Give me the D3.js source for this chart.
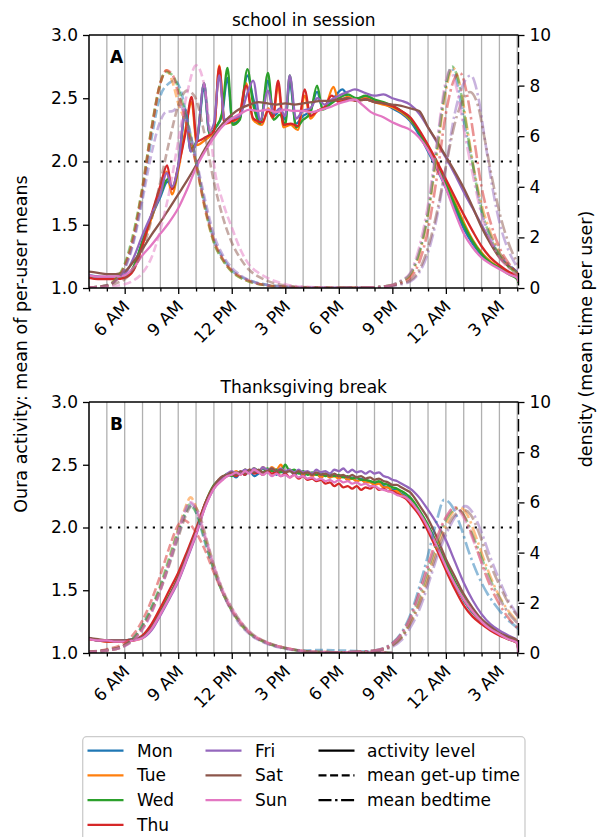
<!DOCTYPE html>
<html lang="en">
<head>
<meta charset="UTF-8">
<title>Oura activity by weekday</title>
<script src="https://d3js.org/d3.v7.min.js"></script>
<style>
  body { margin: 0; background: #fff; }
  svg { font-family: "DejaVu Sans", sans-serif; }
</style>
</head>
<body>
<svg id="chart" width="598" height="837"></svg>
<script>
// ---- data ----
const dayNames = ["Mon", "Tue", "Wed", "Thu", "Fri", "Sat", "Sun"];
const dayColors = ["#1f77b4", "#ff7f0e", "#2ca02c", "#d62728", "#9467bd", "#8c564b", "#e377c2"];
const hourTicks = [6, 9, 12, 15, 18, 21, 24, 27];
const hourTickLabels = ["6 AM", "9 AM", "12 PM", "3 PM", "6 PM", "9 PM", "12 AM", "3 AM"];
const gridHours = [4,5,6,7,8,9,10,11,12,13,14,15,16,17,18,19,20,21,22,23,24,25,26,27,28];
const activityTicks = [1.0, 1.5, 2.0, 2.5, 3.0];
const densityTicks = [0, 2, 4, 6, 8, 10];
const panelTitles = ["school in session", "Thanksgiving break"];
const panelLetters = ["A", "B"];
const styleNames = ["activity level", "mean get-up time", "mean bedtime"];

// panel A: activity, [hour, mean activity], one list per weekday
const schoolActivity = [
  [[4,1.10],[4.5,1.09],[5,1.08],[5.5,1.08],[6,1.09],[6.5,1.16],[7,1.37],[7.5,1.56],[8,1.72],[8.4,1.84],[8.7,1.80],[9,1.95],[9.4,2.38],[9.7,2.08],[10.05,2.16],[10.45,2.58],[10.75,2.22],[11.1,2.27],[11.45,2.36],[11.76,2.66],[12.05,2.30],[12.45,2.34],[12.88,2.68],[13.2,2.50],[13.6,2.31],[14.03,2.64],[14.35,2.36],[14.7,2.40],[15.0,2.33],[15.25,2.62],[15.6,2.30],[16.0,2.36],[16.4,2.40],[16.78,2.55],[17.1,2.42],[17.5,2.46],[18.2,2.57],[18.6,2.50],[19,2.49],[19.5,2.51],[20,2.48],[20.5,2.46],[21,2.42],[21.5,2.38],[22,2.32],[22.5,2.21],[23,2.08],[23.5,1.94],[24,1.79],[24.5,1.63],[25,1.47],[25.5,1.35],[26,1.26],[26.5,1.20],[27,1.16],[27.5,1.12],[28,1.08],[28.07,1.05]],
  [[4,1.09],[4.5,1.08],[5,1.08],[5.5,1.08],[6,1.09],[6.5,1.15],[7,1.34],[7.5,1.55],[8,1.76],[8.35,1.92],[8.65,1.74],[9,1.93],[9.4,2.25],[9.75,2.47],[10.05,2.13],[10.5,2.17],[11.0,2.24],[11.3,2.76],[11.6,2.30],[12.0,2.31],[12.4,2.35],[12.8,2.62],[13.2,2.33],[13.7,2.29],[14.05,2.42],[14.3,2.34],[14.6,2.60],[14.9,2.27],[15.3,2.29],[15.7,2.25],[16.1,2.52],[16.4,2.34],[16.8,2.40],[17.2,2.42],[17.7,2.59],[18,2.48],[18.5,2.51],[19,2.48],[19.5,2.50],[20,2.47],[20.5,2.45],[21,2.43],[21.5,2.39],[22,2.33],[22.5,2.24],[23,2.12],[23.5,1.98],[24,1.84],[24.5,1.68],[25,1.52],[25.5,1.38],[26,1.28],[26.5,1.21],[27,1.16],[27.5,1.12],[28,1.08],[28.07,1.05]],
  [[4,1.09],[4.5,1.08],[5,1.08],[5.5,1.08],[6,1.09],[6.5,1.17],[7,1.37],[7.5,1.57],[8,1.74],[8.4,1.86],[8.7,1.79],[9,1.96],[9.4,2.41],[9.7,2.10],[10.05,2.17],[10.45,2.62],[10.75,2.22],[11.1,2.27],[11.45,2.38],[11.76,2.74],[12.05,2.29],[12.45,2.33],[12.88,2.73],[13.2,2.45],[13.6,2.30],[14.03,2.70],[14.35,2.33],[14.7,2.37],[15.0,2.29],[15.25,2.68],[15.6,2.27],[16.0,2.33],[16.4,2.38],[16.78,2.60],[17.1,2.41],[17.5,2.45],[18.0,2.50],[18.5,2.53],[19,2.50],[19.5,2.52],[20,2.49],[20.5,2.47],[21,2.44],[21.5,2.40],[22,2.34],[22.5,2.23],[23,2.10],[23.5,1.96],[24,1.82],[24.5,1.66],[25,1.50],[25.5,1.37],[26,1.27],[26.5,1.20],[27,1.16],[27.5,1.11],[28,1.07],[28.07,1.04]],
  [[4,1.08],[4.5,1.07],[5,1.07],[5.5,1.07],[6,1.08],[6.5,1.14],[7,1.34],[7.5,1.58],[8,1.81],[8.38,1.97],[8.65,1.78],[9,1.96],[9.4,2.22],[9.75,2.51],[10.05,2.16],[10.5,2.19],[11.0,2.24],[11.3,2.75],[11.6,2.30],[12.0,2.32],[12.4,2.35],[12.8,2.60],[13.2,2.34],[13.7,2.31],[14.05,2.40],[14.3,2.35],[14.6,2.64],[14.9,2.29],[15.3,2.30],[15.7,2.28],[16.1,2.57],[16.4,2.36],[16.8,2.40],[17.2,2.43],[17.6,2.52],[18,2.47],[18.5,2.49],[19,2.48],[19.5,2.49],[20,2.47],[20.5,2.46],[21,2.44],[21.5,2.40],[22,2.35],[22.5,2.25],[23,2.13],[23.5,2.00],[24,1.86],[24.5,1.72],[25,1.58],[25.5,1.45],[26,1.33],[26.5,1.24],[27,1.18],[27.5,1.13],[28,1.09],[28.07,1.05]],
  [[4,1.10],[4.5,1.09],[5,1.09],[5.5,1.09],[6,1.11],[6.5,1.24],[7,1.42],[7.5,1.58],[8,1.74],[8.35,1.91],[8.65,1.80],[9,1.97],[9.4,2.41],[9.7,2.08],[10.05,2.17],[10.45,2.62],[10.75,2.24],[11.0,2.30],[11.3,2.68],[11.6,2.33],[12.0,2.34],[12.45,2.36],[12.9,2.55],[13.2,2.64],[13.6,2.33],[14.03,2.56],[14.35,2.38],[14.7,2.42],[15.0,2.36],[15.25,2.68],[15.6,2.34],[16.0,2.40],[16.4,2.42],[16.8,2.50],[17.2,2.45],[17.6,2.49],[18.0,2.52],[18.5,2.55],[18.9,2.57],[19.5,2.54],[20,2.52],[20.5,2.53],[21,2.50],[21.5,2.48],[22,2.45],[22.5,2.38],[23,2.27],[23.5,2.15],[24,2.03],[24.5,1.90],[25,1.76],[25.5,1.63],[26,1.50],[26.5,1.37],[27,1.26],[27.5,1.18],[28,1.12],[28.07,1.08]],
  [[4,1.13],[4.5,1.12],[5,1.11],[5.5,1.11],[6,1.13],[6.5,1.21],[7,1.31],[7.5,1.42],[8,1.52],[8.5,1.63],[9,1.74],[9.5,1.85],[10,1.97],[10.5,2.10],[11,2.21],[11.5,2.30],[12,2.37],[12.5,2.42],[13,2.45],[13.5,2.47],[14,2.46],[14.5,2.45],[15,2.46],[15.5,2.45],[16,2.46],[16.5,2.47],[17,2.48],[17.5,2.48],[18,2.49],[18.5,2.50],[19,2.48],[19.5,2.49],[20,2.47],[20.5,2.46],[21,2.45],[21.5,2.44],[22,2.42],[22.5,2.40],[23,2.27],[23.5,2.16],[24,2.04],[24.5,1.92],[25,1.79],[25.5,1.64],[26,1.48],[26.5,1.35],[27,1.24],[27.5,1.17],[28,1.12],[28.07,1.08]],
  [[4,1.10],[4.5,1.09],[5,1.09],[5.5,1.09],[6,1.10],[6.5,1.16],[7,1.26],[7.5,1.34],[8,1.43],[8.5,1.52],[9,1.63],[9.5,1.78],[10,1.95],[10.5,2.08],[11,2.19],[11.5,2.28],[12,2.34],[12.5,2.38],[13,2.41],[13.5,2.40],[14,2.41],[14.5,2.39],[15,2.41],[15.5,2.40],[16,2.40],[16.5,2.39],[17,2.41],[17.5,2.43],[18,2.46],[18.5,2.48],[18.9,2.49],[19.3,2.45],[19.8,2.39],[20.5,2.35],[21,2.31],[21.5,2.28],[22,2.25],[22.5,2.19],[23,2.09],[23.5,1.95],[24,1.79],[24.5,1.60],[25,1.43],[25.5,1.32],[26,1.24],[26.5,1.19],[27,1.15],[27.5,1.11],[28,1.08],[28.07,1.05]]
];

// panel A: get-up time density, [hour, density]
const schoolGetUp = [
  [[4,0.02],[5,0.1],[5.5,0.3],[6,0.8],[6.5,1.9],[7,3.7],[7.5,5.9],[8,7.6],[8.5,8.1],[8.8,8.2],[9.1,7.9],[9.5,6.7],[10,5.0],[10.5,3.3],[11,1.9],[11.5,1.2],[12,0.7],[12.5,0.45],[13,0.3],[14,0.12],[15,0.05],[16,0.02],[18,0.01],[20,0]],
  [[4,0.02],[5,0.1],[5.5,0.35],[6,0.9],[6.5,2.1],[7,4.0],[7.5,6.3],[8,8.1],[8.35,8.6],[8.7,8.1],[9,7.3],[9.5,6.4],[10,4.9],[10.5,3.1],[11,1.8],[11.5,1.1],[12,0.65],[12.5,0.4],[13,0.25],[14,0.1],[15,0.05],[16,0.02],[18,0.01],[20,0]],
  [[4,0.02],[5,0.1],[5.5,0.35],[6,0.95],[6.5,2.2],[7,4.0],[7.5,6.3],[8,8.1],[8.3,8.55],[8.7,8.4],[9,7.9],[9.5,6.6],[10,5.0],[10.5,3.2],[11,1.8],[11.5,1.1],[12,0.65],[12.5,0.4],[13,0.25],[14,0.1],[15,0.05],[16,0.02],[18,0.01],[20,0]],
  [[4,0.02],[5,0.1],[5.5,0.3],[6,0.85],[6.5,2.0],[7,3.9],[7.5,6.2],[8,8.1],[8.35,8.6],[8.7,8.4],[9,7.7],[9.5,6.4],[10,4.9],[10.5,3.2],[11,1.9],[11.5,1.15],[12,0.7],[12.5,0.45],[13,0.28],[14,0.1],[15,0.05],[16,0.02],[18,0.01],[20,0]],
  [[4,0.02],[5,0.1],[5.5,0.3],[6,0.75],[6.5,1.8],[7,3.5],[7.5,5.3],[8,6.6],[8.3,6.95],[8.7,7.0],[9.1,7.2],[9.5,6.5],[10,5.1],[10.5,3.5],[11,2.1],[11.5,1.3],[12,0.8],[12.5,0.5],[13,0.3],[14,0.12],[15,0.05],[16,0.02],[18,0.01],[20,0]],
  [[4,0.02],[5,0.08],[5.5,0.18],[6,0.35],[6.5,0.75],[7,1.5],[7.5,2.7],[8,4.2],[8.5,5.8],[9,7.2],[9.5,7.8],[9.9,7.6],[10.5,6.0],[11,4.2],[11.5,2.8],[12,1.8],[12.5,1.15],[13,0.7],[13.5,0.45],[14,0.28],[15,0.1],[16,0.04],[18,0.01],[20,0]],
  [[4,0.02],[5,0.05],[6,0.15],[6.5,0.3],[7,0.6],[7.5,1.2],[8,2.3],[8.5,3.8],[9,5.8],[9.5,7.7],[10,8.8],[10.4,8.2],[10.8,6.2],[11,4.9],[11.5,3.4],[12,2.4],[12.5,1.5],[13,0.9],[13.5,0.6],[14,0.4],[15,0.15],[16,0.05],[18,0.01],[20,0]]
];

// panel A: bedtime density, [hour, density]
const schoolBedtime = [
  [[18,0],[20,0.03],[21,0.12],[21.5,0.28],[22,0.55],[22.5,1.4],[23,3.0],[23.5,5.6],[24,8.0],[24.3,8.7],[24.6,8.2],[25,6.6],[25.5,4.9],[26,3.0],[26.5,2.1],[27,1.4],[27.5,0.95],[28,0.6],[28.07,0.55]],
  [[18,0],[20,0.03],[21,0.12],[21.5,0.25],[22,0.5],[22.5,1.3],[23,2.9],[23.5,5.3],[24,7.8],[24.4,8.7],[24.8,8.0],[25.2,6.3],[25.6,4.6],[26,3.3],[26.5,2.2],[27,1.4],[27.5,0.9],[28,0.55],[28.07,0.5]],
  [[18,0],[20,0.03],[21,0.12],[21.5,0.27],[22,0.55],[22.5,1.4],[23,3.0],[23.5,5.5],[24,8.0],[24.35,8.75],[24.7,8.2],[25.1,6.6],[25.5,4.9],[26,3.1],[26.5,2.0],[27,1.3],[27.5,0.85],[28,0.55],[28.07,0.5]],
  [[18,0],[20,0.02],[21,0.1],[21.5,0.2],[22,0.4],[22.5,1.0],[23,2.3],[23.5,4.4],[24,6.9],[24.5,8.3],[24.8,8.5],[25.2,7.6],[25.6,5.8],[26,4.0],[26.5,2.6],[27,1.6],[27.5,1.0],[28,0.6],[28.07,0.55]],
  [[18,0],[20,0.02],[21,0.08],[21.5,0.15],[22,0.25],[22.5,0.6],[23,1.4],[23.5,2.8],[24,4.8],[24.5,6.9],[25,8.1],[25.4,8.4],[25.8,7.6],[26.2,5.8],[26.6,4.0],[27,2.6],[27.5,1.5],[28,0.8],[28.07,0.7]],
  [[18,0],[20,0.03],[21,0.1],[21.5,0.18],[22,0.3],[22.5,0.7],[23,1.6],[23.5,3.0],[24,4.8],[24.5,6.5],[25,7.5],[25.35,7.75],[25.8,7.2],[26.2,5.8],[26.6,4.3],[27,3.0],[27.5,1.8],[28,1.0],[28.07,0.9]],
  [[18,0],[20,0.03],[21,0.13],[21.5,0.3],[22,0.6],[22.5,1.6],[23,3.3],[23.5,5.8],[24,8.2],[24.2,8.6],[24.6,7.9],[25,6.3],[25.5,4.5],[26,2.9],[26.5,1.9],[27,1.2],[27.5,0.8],[28,0.5],[28.07,0.45]]
];

// panel B: activity during the break (quarter-hour readings across the day plateau)
const breakActivity = [
  [[4,1.12],[4.5,1.10],[5,1.10],[5.5,1.09],[6,1.10],[6.5,1.11],[7,1.13],[7.5,1.20],[8,1.32],[8.5,1.45],[9,1.59],[9.5,1.77],[10,1.96],[10.5,2.18],[11,2.33],[11.5,2.39],[11.75,2.41],[12,2.42],[12.25,2.40],[12.5,2.44],[12.75,2.42],[13,2.45],[13.25,2.41],[13.5,2.43],[13.75,2.47],[14,2.44],[14.25,2.46],[14.5,2.42],[14.75,2.45],[15,2.43],[15.25,2.46],[15.5,2.42],[15.75,2.44],[16,2.41],[16.25,2.44],[16.5,2.42],[16.75,2.43],[17,2.40],[17.25,2.43],[17.5,2.40],[17.75,2.42],[18,2.40],[18.25,2.41],[18.5,2.38],[18.75,2.40],[19,2.37],[19.25,2.39],[19.5,2.36],[19.75,2.37],[20,2.35],[20.25,2.36],[20.5,2.33],[20.75,2.32],[21,2.30],[21.25,2.30],[21.5,2.27],[21.75,2.25],[22,2.22],[22.5,2.12],[23,2.00],[23.5,1.85],[24,1.70],[24.5,1.55],[25,1.42],[25.5,1.32],[26,1.25],[26.5,1.19],[27,1.15],[27.5,1.12],[28,1.09],[28.07,1.0]],
  [[4,1.11],[4.5,1.10],[5,1.09],[5.5,1.09],[6,1.09],[6.5,1.10],[7,1.12],[7.5,1.19],[8,1.31],[8.5,1.44],[9,1.58],[9.5,1.76],[10,1.95],[10.5,2.17],[11,2.32],[11.5,2.40],[11.75,2.42],[12,2.43],[12.25,2.45],[12.5,2.42],[12.75,2.46],[13,2.44],[13.25,2.47],[13.5,2.44],[13.75,2.48],[14,2.45],[14.25,2.48],[14.5,2.46],[14.75,2.50],[15,2.44],[15.25,2.46],[15.5,2.43],[15.75,2.45],[16,2.42],[16.25,2.44],[16.5,2.41],[16.75,2.43],[17,2.40],[17.25,2.42],[17.5,2.40],[17.75,2.41],[18,2.39],[18.25,2.41],[18.5,2.38],[18.75,2.39],[19,2.37],[19.25,2.38],[19.5,2.36],[19.75,2.36],[20,2.34],[20.25,2.35],[20.5,2.32],[20.75,2.32],[21,2.29],[21.25,2.29],[21.5,2.26],[21.75,2.24],[22,2.21],[22.5,2.12],[23,2.01],[23.5,1.86],[24,1.71],[24.5,1.56],[25,1.43],[25.5,1.33],[26,1.25],[26.5,1.19],[27,1.15],[27.5,1.11],[28,1.08],[28.07,1.0]],
  [[4,1.12],[4.5,1.10],[5,1.10],[5.5,1.09],[6,1.10],[6.5,1.11],[7,1.13],[7.5,1.20],[8,1.33],[8.5,1.46],[9,1.60],[9.5,1.78],[10,1.97],[10.5,2.19],[11,2.34],[11.5,2.40],[11.75,2.43],[12,2.41],[12.25,2.44],[12.5,2.43],[12.75,2.46],[13,2.44],[13.25,2.47],[13.5,2.45],[13.75,2.44],[14,2.47],[14.25,2.45],[14.5,2.46],[14.75,2.44],[15,2.50],[15.25,2.45],[15.5,2.46],[15.75,2.43],[16,2.45],[16.25,2.42],[16.5,2.44],[16.75,2.42],[17,2.44],[17.25,2.41],[17.5,2.43],[17.75,2.41],[18,2.42],[18.25,2.40],[18.5,2.41],[18.75,2.39],[19,2.40],[19.25,2.38],[19.5,2.38],[19.75,2.37],[20,2.36],[20.25,2.37],[20.5,2.35],[20.75,2.34],[21,2.32],[21.25,2.31],[21.5,2.29],[21.75,2.27],[22,2.24],[22.5,2.14],[23,2.02],[23.5,1.87],[24,1.72],[24.5,1.57],[25,1.44],[25.5,1.33],[26,1.25],[26.5,1.19],[27,1.15],[27.5,1.11],[28,1.08],[28.07,1.0]],
  [[4,1.11],[4.5,1.10],[5,1.09],[5.5,1.09],[6,1.09],[6.5,1.10],[7,1.14],[7.5,1.23],[8,1.36],[8.5,1.50],[9,1.64],[9.5,1.81],[10,1.99],[10.5,2.19],[11,2.33],[11.5,2.39],[11.75,2.41],[12,2.43],[12.25,2.41],[12.5,2.44],[12.75,2.42],[13,2.46],[13.25,2.43],[13.5,2.44],[13.75,2.42],[14,2.45],[14.25,2.43],[14.5,2.44],[14.75,2.41],[15,2.43],[15.25,2.40],[15.5,2.42],[15.75,2.39],[16,2.41],[16.25,2.38],[16.5,2.39],[16.75,2.37],[17,2.38],[17.25,2.35],[17.5,2.36],[17.75,2.33],[18,2.35],[18.25,2.32],[18.5,2.33],[18.75,2.31],[19,2.33],[19.25,2.30],[19.5,2.32],[19.75,2.31],[20,2.33],[20.25,2.30],[20.5,2.31],[20.75,2.29],[21,2.29],[21.25,2.27],[21.5,2.25],[21.75,2.23],[22,2.19],[22.5,2.10],[23,1.97],[23.5,1.82],[24,1.66],[24.5,1.51],[25,1.38],[25.5,1.29],[26,1.23],[26.5,1.18],[27,1.14],[27.5,1.11],[28,1.08],[28.07,1.0]],
  [[4,1.12],[4.5,1.10],[5,1.10],[5.5,1.10],[6,1.10],[6.5,1.11],[7,1.12],[7.5,1.18],[8,1.30],[8.5,1.43],[9,1.57],[9.5,1.75],[10,1.94],[10.5,2.16],[11,2.31],[11.5,2.39],[11.75,2.43],[12,2.45],[12.25,2.43],[12.5,2.44],[12.75,2.46],[13,2.45],[13.25,2.47],[13.5,2.45],[13.75,2.48],[14,2.46],[14.25,2.47],[14.5,2.45],[14.75,2.47],[15,2.45],[15.25,2.46],[15.5,2.44],[15.75,2.46],[16,2.44],[16.25,2.45],[16.5,2.43],[16.75,2.46],[17,2.44],[17.25,2.45],[17.5,2.43],[17.75,2.46],[18,2.45],[18.25,2.47],[18.5,2.44],[18.75,2.46],[19,2.44],[19.25,2.45],[19.5,2.43],[19.75,2.45],[20,2.43],[20.25,2.44],[20.5,2.41],[20.75,2.40],[21,2.38],[21.25,2.37],[21.5,2.35],[21.75,2.33],[22,2.31],[22.5,2.24],[23,2.14],[23.5,2.03],[24,1.90],[24.5,1.73],[25,1.56],[25.5,1.42],[26,1.31],[26.5,1.23],[27,1.18],[27.5,1.14],[28,1.10],[28.07,1.0]],
  [[4,1.12],[4.5,1.11],[5,1.10],[5.5,1.10],[6,1.10],[6.5,1.11],[7,1.13],[7.5,1.20],[8,1.32],[8.5,1.45],[9,1.60],[9.5,1.78],[10,1.97],[10.5,2.18],[11,2.33],[11.5,2.41],[11.75,2.42],[12,2.44],[12.25,2.42],[12.5,2.45],[12.75,2.43],[13,2.46],[13.25,2.44],[13.5,2.46],[13.75,2.44],[14,2.45],[14.25,2.47],[14.5,2.45],[14.75,2.46],[15,2.44],[15.25,2.45],[15.5,2.43],[15.75,2.45],[16,2.43],[16.25,2.44],[16.5,2.42],[16.75,2.44],[17,2.42],[17.25,2.43],[17.5,2.41],[17.75,2.43],[18,2.41],[18.25,2.42],[18.5,2.40],[18.75,2.42],[19,2.40],[19.25,2.41],[19.5,2.39],[19.75,2.40],[20,2.38],[20.25,2.39],[20.5,2.37],[20.75,2.36],[21,2.34],[21.25,2.34],[21.5,2.32],[21.75,2.30],[22,2.28],[22.5,2.18],[23,2.07],[23.5,1.92],[24,1.75],[24.5,1.61],[25,1.47],[25.5,1.36],[26,1.27],[26.5,1.21],[27,1.16],[27.5,1.13],[28,1.10],[28.07,1.0]],
  [[4,1.11],[4.5,1.10],[5,1.10],[5.5,1.09],[6,1.09],[6.5,1.10],[7,1.12],[7.5,1.19],[8,1.31],[8.5,1.44],[9,1.58],[9.5,1.76],[10,1.95],[10.5,2.16],[11,2.31],[11.5,2.38],[11.75,2.41],[12,2.42],[12.25,2.44],[12.5,2.42],[12.75,2.45],[13,2.43],[13.25,2.46],[13.5,2.44],[13.75,2.42],[14,2.44],[14.25,2.41],[14.5,2.43],[14.75,2.41],[15,2.42],[15.25,2.40],[15.5,2.42],[15.75,2.40],[16,2.41],[16.25,2.39],[16.5,2.40],[16.75,2.38],[17,2.39],[17.25,2.37],[17.5,2.38],[17.75,2.36],[18,2.38],[18.25,2.36],[18.5,2.37],[18.75,2.35],[19,2.36],[19.25,2.34],[19.5,2.35],[19.75,2.33],[20,2.33],[20.25,2.31],[20.5,2.30],[20.75,2.29],[21,2.28],[21.25,2.26],[21.5,2.25],[21.75,2.24],[22,2.21],[22.5,2.12],[23,2.00],[23.5,1.85],[24,1.69],[24.5,1.55],[25,1.43],[25.5,1.33],[26,1.25],[26.5,1.19],[27,1.15],[27.5,1.11],[28,1.08],[28.07,1.0]]
];

// panel B: get-up time density
const breakGetUp = [
  [[4,0.05],[5,0.12],[6,0.3],[6.5,0.6],[7,1.1],[7.5,1.8],[8,2.6],[8.5,3.6],[9,4.7],[9.5,5.7],[9.8,5.9],[10.1,5.4],[10.5,4.4],[11,3.3],[11.5,2.4],[12,1.7],[12.5,1.2],[13,0.8],[14,0.4],[15,0.2],[16,0.1],[17,0.12],[18,0.1],[19,0.08],[20,0.04],[21,0]],
  [[4,0.05],[5,0.1],[6,0.3],[6.5,0.55],[7,1.0],[7.5,1.7],[8,2.6],[8.5,3.7],[9,4.9],[9.4,5.8],[9.7,6.2],[10,5.8],[10.5,4.6],[11,3.4],[11.5,2.4],[12,1.7],[12.5,1.15],[13,0.8],[14,0.4],[15,0.2],[16,0.08],[17,0.04],[19,0.02],[21,0]],
  [[4,0.05],[5,0.12],[6,0.32],[6.5,0.6],[7,1.1],[7.5,1.8],[8,2.7],[8.5,3.8],[9,4.9],[9.4,5.6],[9.6,5.9],[10,5.6],[10.5,4.5],[11,3.3],[11.5,2.4],[12,1.7],[12.5,1.15],[13,0.78],[14,0.38],[15,0.18],[16,0.08],[17,0.04],[19,0.02],[21,0]],
  [[4,0.05],[5,0.15],[6,0.4],[6.5,0.75],[7,1.3],[7.5,2.1],[8,3.1],[8.5,4.2],[9,5.1],[9.3,5.3],[9.7,5.1],[10,4.8],[10.5,4.1],[11,3.2],[11.5,2.4],[12,1.7],[12.5,1.2],[13,0.8],[14,0.4],[15,0.2],[16,0.08],[17,0.04],[19,0.02],[21,0]],
  [[4,0.04],[5,0.1],[6,0.28],[6.5,0.52],[7,0.95],[7.5,1.6],[8,2.5],[8.5,3.6],[9,4.8],[9.4,5.7],[9.6,6.0],[10,5.7],[10.5,4.6],[11,3.4],[11.5,2.4],[12,1.65],[12.5,1.1],[13,0.75],[14,0.36],[15,0.17],[16,0.07],[17,0.03],[19,0.01],[21,0]],
  [[4,0.05],[5,0.1],[6,0.3],[6.5,0.55],[7,1.0],[7.5,1.65],[8,2.5],[8.5,3.5],[9,4.6],[9.5,5.6],[9.8,5.9],[10.2,5.5],[10.6,4.5],[11,3.5],[11.5,2.5],[12,1.8],[12.5,1.25],[13,0.85],[14,0.42],[15,0.2],[16,0.08],[17,0.04],[19,0.02],[21,0]],
  [[4,0.05],[5,0.1],[6,0.28],[6.5,0.5],[7,0.95],[7.5,1.6],[8,2.5],[8.5,3.6],[9,4.8],[9.4,5.7],[9.7,6.0],[10.1,5.6],[10.5,4.7],[11,3.5],[11.5,2.5],[12,1.8],[12.5,1.25],[13,0.85],[14,0.42],[15,0.2],[16,0.08],[17,0.04],[19,0.02],[21,0]]
];

// panel B: bedtime density
const breakBedtime = [
  [[16,0],[18,0.02],[19,0.05],[20,0.1],[21,0.4],[21.5,0.8],[22,1.5],[22.5,2.6],[23,3.9],[23.5,5.3],[23.9,6.1],[24.3,5.9],[24.8,5.1],[25.3,4.0],[25.8,3.1],[26.3,2.4],[27,1.7],[27.5,1.3],[28,1.0],[28.07,0.95]],
  [[16,0],[18,0.02],[19,0.04],[20,0.08],[21,0.3],[21.5,0.6],[22,1.2],[22.5,2.0],[23,3.1],[23.5,4.2],[24,5.1],[24.5,5.7],[24.8,5.8],[25.2,5.5],[25.7,4.6],[26.2,3.6],[26.7,2.7],[27.2,2.0],[27.7,1.5],[28,1.25],[28.07,1.2]],
  [[16,0],[18,0.02],[19,0.04],[20,0.09],[21,0.33],[21.5,0.65],[22,1.3],[22.5,2.2],[23,3.3],[23.5,4.4],[24,5.3],[24.6,5.75],[25,5.5],[25.5,4.7],[26,3.8],[26.5,2.9],[27,2.2],[27.5,1.6],[28,1.2],[28.07,1.15]],
  [[16,0],[18,0.02],[19,0.05],[20,0.1],[21,0.38],[21.5,0.75],[22,1.4],[22.5,2.4],[23,3.5],[23.5,4.6],[24,5.4],[24.5,5.8],[24.9,5.6],[25.3,5.0],[25.8,4.0],[26.3,3.0],[26.8,2.2],[27.3,1.6],[28,1.0],[28.07,0.95]],
  [[16,0],[18,0.02],[19,0.03],[20,0.07],[21,0.25],[21.5,0.5],[22,1.0],[22.5,1.7],[23,2.7],[23.5,3.8],[24,4.7],[24.5,5.4],[25.1,5.85],[25.5,5.6],[26,4.8],[26.5,3.8],[27,2.9],[27.5,2.1],[28,1.5],[28.07,1.4]],
  [[16,0],[18,0.02],[19,0.04],[20,0.08],[21,0.3],[21.5,0.6],[22,1.15],[22.5,1.9],[23,2.9],[23.5,4.0],[24,4.9],[24.5,5.5],[25,5.7],[25.4,5.5],[25.9,4.7],[26.4,3.7],[27,2.7],[27.5,2.0],[28,1.5],[28.07,1.45]],
  [[16,0],[18,0.02],[19,0.05],[20,0.1],[21,0.36],[21.5,0.72],[22,1.35],[22.5,2.3],[23,3.4],[23.5,4.5],[24,5.4],[24.4,5.75],[24.8,5.6],[25.3,4.9],[25.8,4.0],[26.3,3.1],[26.8,2.4],[27.3,1.8],[28,1.2],[28.07,1.15]]
];

// ---- layout ----
const svg = d3.select("#chart");
const plotLeft = 89, plotRight = 518.5;
const panels = [
  {top: 35, bottom: 288, activity: schoolActivity, getUp: schoolGetUp, bedtime: schoolBedtime},
  {top: 402, bottom: 653, activity: breakActivity, getUp: breakGetUp, bedtime: breakBedtime}
];
const fontSize = 17;
const dashGetUp = "8,3.6";
const dashBed = "13,3.6,2.4,3.6";

const x = d3.scaleLinear().domain([4, 28.07]).range([plotLeft, plotRight]);

panels.forEach((p, pi) => {
  const yAct = d3.scaleLinear().domain([1, 3]).range([p.bottom, p.top]);
  const yDen = d3.scaleLinear().domain([0, 10]).range([p.bottom, p.top]);

  const clipId = "clip" + pi;
  svg.append("clipPath").attr("id", clipId)
    .append("rect").attr("x", plotLeft).attr("y", p.top)
    .attr("width", plotRight - plotLeft).attr("height", p.bottom - p.top);

  const g = svg.append("g");

  // hourly vertical grid
  g.append("g").selectAll("line").data(gridHours).join("line")
    .attr("x1", d => x(d)).attr("x2", d => x(d))
    .attr("y1", p.top).attr("y2", p.bottom)
    .attr("stroke", "#b0b0b0").attr("stroke-width", 1.3);

  // dotted reference line at activity 2.0
  g.append("line")
    .attr("x1", x(4.65)).attr("x2", plotRight)
    .attr("y1", yAct(2)).attr("y2", yAct(2))
    .attr("stroke", "#000").attr("stroke-width", 2.2)
    .attr("stroke-dasharray", "2.2,6.5");

  const plot = g.append("g").attr("clip-path", `url(#${clipId})`);

  const actLine = d3.line().x(d => x(d[0])).y(d => yAct(d[1])).curve(d3.curveMonotoneX);
  const denLine = d3.line().x(d => x(d[0])).y(d => yDen(d[1])).curve(d3.curveMonotoneX);

  plot.selectAll("path.act").data(p.activity).join("path")
    .attr("class", "act")
    .attr("d", actLine)
    .attr("fill", "none")
    .attr("stroke", (d, i) => dayColors[i])
    .attr("stroke-width", 2.3)
    .attr("stroke-linejoin", "round");

  plot.selectAll("path.getup").data(p.getUp).join("path")
    .attr("class", "getup")
    .attr("d", denLine)
    .attr("fill", "none")
    .attr("stroke", (d, i) => dayColors[i])
    .attr("stroke-opacity", 0.5)
    .attr("stroke-width", 2.6)
    .attr("stroke-dasharray", dashGetUp);

  plot.selectAll("path.bed").data(p.bedtime).join("path")
    .attr("class", "bed")
    .attr("d", denLine)
    .attr("fill", "none")
    .attr("stroke", (d, i) => dayColors[i])
    .attr("stroke-opacity", 0.5)
    .attr("stroke-width", 2.6)
    .attr("stroke-dasharray", dashBed);

  // spines
  g.append("line").attr("x1", plotLeft).attr("x2", plotRight).attr("y1", p.top).attr("y2", p.top)
    .attr("stroke", "#000").attr("stroke-width", 1.4);
  g.append("line").attr("x1", plotLeft).attr("x2", plotRight).attr("y1", p.bottom).attr("y2", p.bottom)
    .attr("stroke", "#000").attr("stroke-width", 1.4);
  g.append("line").attr("x1", plotLeft).attr("x2", plotLeft).attr("y1", p.top).attr("y2", p.bottom)
    .attr("stroke", "#000").attr("stroke-width", 1.4);
  g.append("line").attr("x1", plotRight).attr("x2", plotRight).attr("y1", p.top).attr("y2", p.bottom)
    .attr("stroke", "#000").attr("stroke-width", 1.4).attr("stroke-dasharray", "12.5,4.5");

  // left axis
  const left = g.append("g").attr("transform", `translate(${plotLeft},0)`)
    .call(d3.axisLeft(yAct).tickValues(activityTicks).tickFormat(d3.format(".1f")).tickSize(6).tickPadding(5));
  // right axis
  const right = g.append("g").attr("transform", `translate(${plotRight},0)`)
    .call(d3.axisRight(yDen).tickValues(densityTicks).tickSize(6).tickPadding(5));
  // bottom axis: major ticks with rotated labels + minor hourly ticks
  const bottom = g.append("g").attr("transform", `translate(0,${p.bottom})`)
    .call(d3.axisBottom(x).tickValues(hourTicks).tickFormat((d, i) => hourTickLabels[i]).tickSize(6));
  const minor = g.append("g").attr("transform", `translate(0,${p.bottom})`)
    .call(d3.axisBottom(x).tickValues(gridHours.filter(h => !hourTicks.includes(h))).tickFormat("").tickSize(3.5));

  [left, right, bottom, minor].forEach(a => {
    a.select(".domain").remove();
    a.selectAll(".tick line").attr("stroke", "#000").attr("stroke-width", 1.3);
    a.selectAll("text").attr("font-size", fontSize).attr("font-family", "DejaVu Sans").attr("fill", "#000");
  });
  bottom.selectAll(".tick text")
    .attr("text-anchor", "end")
    .attr("x", 0).attr("y", 0).attr("dy", "0.71em")
    .attr("transform", "translate(-3,11) rotate(-45)");

  // title and panel letter
  svg.append("text")
    .attr("x", (plotLeft + plotRight) / 2).attr("y", p.top - 9)
    .attr("text-anchor", "middle").attr("font-size", fontSize)
    .text(panelTitles[pi]);
  svg.append("text")
    .attr("x", plotLeft + 21).attr("y", p.top + 28)
    .attr("font-size", fontSize).attr("font-weight", "bold")
    .text(panelLetters[pi]);
});

// shared axis labels
svg.append("text")
  .attr("transform", "translate(27,344) rotate(-90)")
  .attr("text-anchor", "middle").attr("font-size", 17.5)
  .text("Oura activity: mean of per-user means");
svg.append("text")
  .attr("transform", "translate(592,339) rotate(-90)")
  .attr("text-anchor", "middle").attr("font-size", 17.5)
  .text("density (mean time per user)");

// ---- legend ----
const legend = svg.append("g");
legend.append("rect")
  .attr("x", 82.7).attr("y", 736.7).attr("width", 442.3).attr("height", 120)
  .attr("rx", 4).attr("fill", "#fff").attr("fill-opacity", 0.8)
  .attr("stroke", "#cccccc").attr("stroke-width", 1.3);

const rowY = i => 750.7 + i * 24.7;
const legendDays = dayNames.map((name, i) => ({name, color: dayColors[i], col: i < 4 ? 0 : 1, row: i < 4 ? i : i - 4}));
const colX = [87.5, 205.5];
const dayItems = legend.selectAll("g.day").data(legendDays).join("g").attr("class", "day")
  .attr("transform", d => `translate(${colX[d.col]},${rowY(d.row)})`);
dayItems.append("line").attr("x1", 0).attr("x2", 36).attr("stroke", d => d.color).attr("stroke-width", 2.3);
dayItems.append("text").attr("x", 49.5).attr("dy", "0.35em").attr("font-size", fontSize).text(d => d.name);

const styleDash = [null, dashGetUp, dashBed];
const styleItems = legend.selectAll("g.style").data(styleNames).join("g").attr("class", "style")
  .attr("transform", (d, i) => `translate(318.5,${rowY(i)})`);
styleItems.append("line").attr("x1", 0).attr("x2", 36).attr("stroke", "#000").attr("stroke-width", 2.3)
  .attr("stroke-dasharray", (d, i) => styleDash[i]);
styleItems.append("text").attr("x", 48.5).attr("dy", "0.35em").attr("font-size", fontSize).text(d => d);
</script>
</body>
</html>
